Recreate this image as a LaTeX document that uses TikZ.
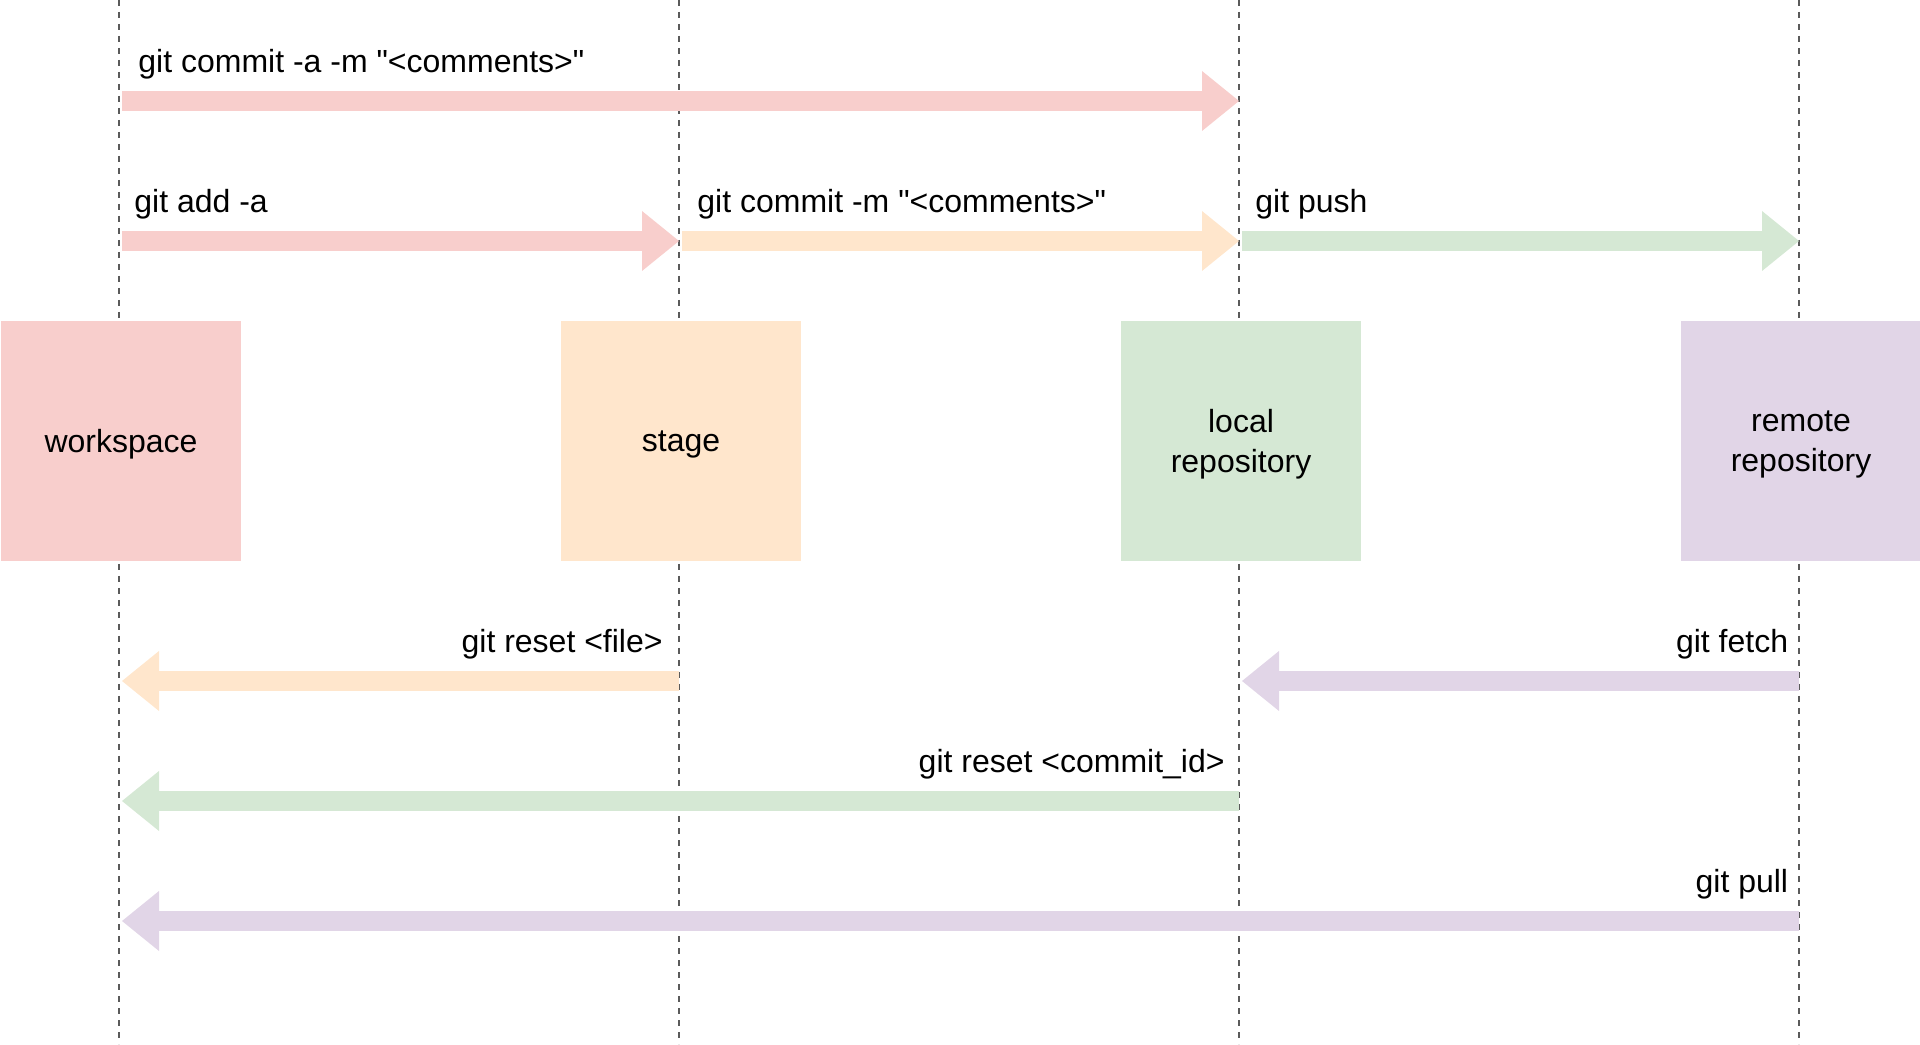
\documentclass[tikz,border=0pt]{standalone}
\usepackage{fontspec}
\setmainfont{Liberation Sans}[Ligatures=TeXOff]
\usepackage{tikz}
\usetikzlibrary{arrows.meta,positioning}
\definecolor{pinkc}{HTML}{F8CECC}
\definecolor{orangec}{HTML}{FFE6CC}
\definecolor{greenc}{HTML}{D5E8D4}
\definecolor{purplec}{HTML}{E1D5E7}
\definecolor{lanegray}{HTML}{5A5A5A}
\tikzset{
    box/.style={
           rectangle,
           minimum width=120pt,
           minimum height=120pt,
           inner sep=0pt,
           text depth=0pt,
           align=center,
           font=\fontsize{16pt}{20pt}\selectfont
           },
    lane/.style={
           draw=lanegray, line width=1pt,
           dash pattern=on 3pt off 3pt
           },
    flow/.style={
           line width=10pt,
           -{Triangle[length=18.5pt,width=30pt,line width=0pt]}
           },
    rflow/.style={
           flow, shorten <=1.5pt
           },
    lflow/.style={
           flow, shorten >=1.5pt
           },
    cmd/.style={
           inner sep=0pt,
           font=\fontsize{16pt}{20pt}\selectfont
           }
}

\begin{document}
\begin{tikzpicture}[x=0.5pt, y=0.5pt, node distance=280pt, on grid]
   \useasboundingbox (0,0) rectangle (1920,1044);
   % lifelines
   \foreach \name/\x in {wl/119, sl/679, ll/1239, rl/1799} {
      \coordinate (\name) at (\x,1044);
      \coordinate (\name b) at (\x,0);
      \draw[lane] (\name) -- (\name b);
   }
   % rows
   \coordinate (rA) at (0,943);
   \coordinate (rB) at (0,803);
   \coordinate (rC) at (0,363);
   \coordinate (rD) at (0,243);
   \coordinate (rE) at (0,123);

   \node[box, fill=pinkc] (workspace) at (121,603) {workspace};
   \node[box, fill=orangec] (stage) [right=of workspace] {stage};
   \node[box, fill=greenc] (local) [right=of stage] {local\\repository};
   \node[box, fill=purplec] (remote) [right=of local] {remote\\repository};

   \path
    (wl |- rA) edge[rflow, pinkc] (ll |- rA)
    (wl |- rB) edge[rflow, pinkc] (sl |- rB)
    (sl |- rB) edge[rflow, orangec] (ll |- rB)
    (ll |- rB) edge[rflow, greenc] (rl |- rB)
    (sl |- rC) edge[lflow, orangec] (wl |- rC)
    (rl |- rC) edge[lflow, purplec] (ll |- rC)
    (ll |- rD) edge[lflow, greenc] (wl |- rD)
    (rl |- rE) edge[lflow, purplec] (wl |- rE);

   \node[cmd, anchor=base west] (commitAll) at (138,971.5) {git commit -a -m "<comments>"};
   \node[cmd, anchor=base west] (add) at (134,831.5) {git add -a};
   \node[cmd, anchor=base west] (commit) at (697,831.5) {git commit -m "<comments>"};
   \node[cmd, anchor=base west] (push) at (1255,831.5) {git push};
   \node[cmd, anchor=base east] (resetFile) at (663,391.5) {git reset <file>};
   \node[cmd, anchor=base east] (fetch) at (1788.5,391.5) {git fetch};
   \node[cmd, anchor=base east] (resetId) at (1225,271.5) {git reset <commit\_id>};
   \node[cmd, anchor=base east] (pull) at (1788.5,151.5) {git pull};
\end{tikzpicture}
\end{document}
